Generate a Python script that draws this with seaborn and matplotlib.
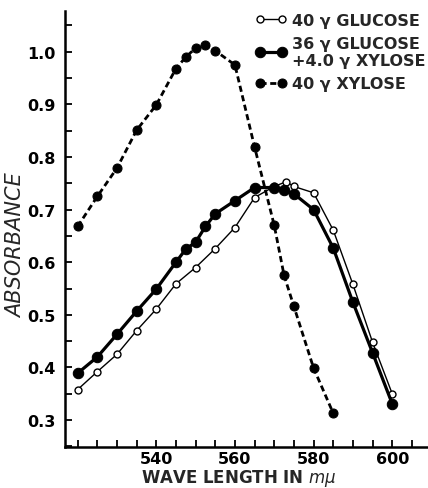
import numpy as np
import pandas as pd
import matplotlib
matplotlib.use("Agg")
import matplotlib.pyplot as plt
from matplotlib.ticker import MultipleLocator
import seaborn as sns

sns.set_style("ticks")
plt.rcParams['font.family'] = ['DejaVu Sans']

# 40 y glucose (open circles)
glu_wl = [520, 525, 530, 535, 540, 545, 550, 555, 560, 565, 570, 573, 575, 580, 585, 590, 595, 600]
glu_abs = [0.358, 0.392, 0.425, 0.47, 0.511, 0.559, 0.59, 0.626, 0.666, 0.723, 0.744, 0.753, 0.744, 0.732, 0.661, 0.558, 0.448, 0.35]

# 36 y glucose + 4.0 y xylose (filled, heavy line)
mix_wl = [520, 525, 530, 535, 540, 545, 547.5, 550, 552.5, 555, 560, 565, 570, 572.5, 575, 580, 585, 590, 595, 600]
mix_abs = [0.389, 0.42, 0.463, 0.507, 0.549, 0.60, 0.625, 0.638, 0.668, 0.692, 0.717, 0.742, 0.742, 0.737, 0.73, 0.70, 0.627, 0.524, 0.428, 0.331]

# 40 y xylose (filled, dashed)
xyl_wl = [520, 525, 530, 535, 540, 545, 547.5, 550, 552.5, 555, 560, 565, 570, 572.5, 575, 580, 585]
xyl_abs = [0.668, 0.725, 0.779, 0.851, 0.899, 0.968, 0.99, 1.007, 1.012, 1.002, 0.975, 0.819, 0.67, 0.575, 0.516, 0.399, 0.313]

labels = ["40 γ GLUCOSE", "36 γ GLUCOSE\n+4.0 γ XYLOSE", "40 γ XYLOSE"]

fig = plt.figure(figsize=(4.28, 4.89), dpi=100)
ax = fig.add_axes([0.152, 0.084, 0.848, 0.892])

glu = pd.DataFrame({"wl": glu_wl, "a": glu_abs})
mix = pd.DataFrame({"wl": mix_wl, "a": mix_abs})
xyl = pd.DataFrame({"wl": xyl_wl, "a": xyl_abs})

sns.lineplot(data=glu, x="wl", y="a", ax=ax, color="black", lw=1.0, marker="o",
             markersize=5, markerfacecolor="white", markeredgecolor="black",
             markeredgewidth=1.0, label=labels[0])
sns.lineplot(data=mix, x="wl", y="a", ax=ax, color="black", lw=2.3, marker="o",
             markersize=7.5, markeredgecolor="black", label=labels[1])
sns.lineplot(data=xyl, x="wl", y="a", ax=ax, color="black", lw=2.0, marker="o",
             markersize=6.5, markeredgecolor="black", linestyle=(0, (2.2, 1.3)),
             label=labels[2])

ax.set_xlim(516.8, 609.1)
ax.set_ylim(0.249, 1.078)
ax.xaxis.set_minor_locator(MultipleLocator(5))
ax.yaxis.set_minor_locator(MultipleLocator(0.05))
ax.set_xticks([540, 560, 580, 600])
ax.set_xticklabels(["540", "560", "580", "600"], fontsize=11.5, fontweight="bold")
yt = [0.3, 0.4, 0.5, 0.6, 0.7, 0.8, 0.9, 1.0]
ax.set_yticks(yt)
ax.set_yticklabels([f"{v:.1f}" for v in yt], fontsize=11.5, fontweight="bold")
ax.tick_params(which="both", direction="in", length=5, width=1.3, colors="black")
ax.tick_params(axis="x", pad=3)
ax.tick_params(axis="y", pad=7)
for s in ["left", "bottom"]:
    ax.spines[s].set_linewidth(1.8)
    ax.spines[s].set_color("black")
sns.despine(ax=ax)

ax.set_xlabel("WAVE LENGTH IN $\\mathit{m\\mu}$", fontsize=12, fontweight="bold")
ax.xaxis.set_label_coords(0.48, -0.046)
ax.set_ylabel("ABSORBANCE", fontsize=15, fontstyle="italic")
ax.yaxis.set_label_coords(-0.108, 0.463)

leg = ax.legend(loc="upper right", bbox_to_anchor=(1.01, 1.01), frameon=False,
                numpoints=2, handlelength=2.0, handletextpad=0.3, labelspacing=0.5,
                borderaxespad=0.0, prop={"weight": "bold", "size": 11.5})
for t in leg.get_texts():
    t.set_linespacing(1.2)

fig.savefig("out.png", dpi=100)
